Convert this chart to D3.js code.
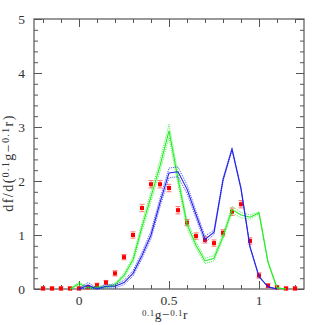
<!DOCTYPE html>
<html>
<head>
<meta charset="utf-8">
<script src="https://cdn.jsdelivr.net/npm/d3@7"></script>
<style>
	body { margin: 0; background: #fff; }
	svg text { font-family: "Liberation Serif", "DejaVu Serif", serif; fill: #333; }
</style>
</head>
<body>
<svg id="chart" width="314" height="325"></svg>
<script>
// Colour distribution: observed points plus two model curves with dotted envelopes.

// Observed points (red, with error bars).
var obsX = [-0.2, -0.15, -0.1, -0.05, 0, 0.05, 0.1, 0.15, 0.2, 0.25, 0.3, 0.35, 0.4, 0.45, 0.5,
	0.55, 0.6, 0.65, 0.7, 0.75, 0.8, 0.85, 0.9, 0.95, 1.0, 1.05, 1.1, 1.15, 1.2];
var obsY = [0.01, 0.01, 0.01, 0.01, 0.01, 0.03, 0.07, 0.12, 0.29, 0.59, 1.0, 1.5, 1.94, 1.94, 1.87,
	1.46, 1.23, 0.98, 0.91, 0.85, 1.04, 1.43, 1.57, 0.89, 0.25, 0.06, 0.03, 0.01, 0.01];
var obsErr = [0.01, 0.01, 0.01, 0.01, 0.01, 0.02, 0.02, 0.02, 0.03, 0.03, 0.04, 0.05, 0.05, 0.05, 0.05,
	0.05, 0.04, 0.04, 0.04, 0.04, 0.04, 0.05, 0.05, 0.04, 0.03, 0.02, 0.01, 0.01, 0.01];

// Green model.
var greenX = [-0.05, 0, 0.05, 0.1, 0.15, 0.2, 0.25, 0.3, 0.35, 0.4, 0.45, 0.5, 0.55, 0.6, 0.65,
	0.7, 0.75, 0.8, 0.85, 0.9, 0.95, 1.0, 1.05, 1.1, 1.15];
var greenY = [0, 0.1, 0.02, 0.03, 0.04, 0.08, 0.25, 0.54, 1.15, 1.71, 2.28, 2.93, 2.04, 1.2, 0.81,
	0.52, 0.57, 0.97, 1.47, 1.37, 1.33, 1.41, 0.5, 0.02, 0];
var greenErr = [0, 0.03, 0.02, 0.02, 0.02, 0.03, 0.04, 0.06, 0.08, 0.09, 0.1, 0.12, 0.1, 0.07, 0.06,
	0.05, 0.05, 0.05, 0.06, 0.05, 0.04, 0.02, 0.01, 0, 0];

// Blue model.
var blueX = [0, 0.05, 0.1, 0.15, 0.2, 0.25, 0.3, 0.35, 0.4, 0.45, 0.5, 0.55, 0.6, 0.65, 0.7,
	0.75, 0.8, 0.85, 0.9, 0.95, 1.0, 1.05, 1.1];
var blueY = [0, 0.07, 0.0, 0.05, 0.05, 0.12, 0.29, 0.62, 1.0, 1.6, 2.15, 2.17, 1.85, 1.38, 0.92,
	1.05, 2.02, 2.59, 1.86, 0.78, 0.23, 0.04, 0];
var blueErr = [0.01, 0.05, 0.02, 0.03, 0.03, 0.04, 0.05, 0.06, 0.07, 0.08, 0.09, 0.09, 0.08, 0.07, 0.06,
	0.04, 0.03, 0.02, 0.02, 0.01, 0.01, 0, 0];

// Tick labels.
var xMajor = [0, 0.5, 1];
var yMajor = [0, 1, 2, 3, 4, 5];

(function() {
	var svg = d3.select('#chart');
	var mLeft = 34, mRight = 304, mTop = 19, mBottom = 289;

	var x = d3.scaleLinear().domain([-0.25, 1.25]).range([mLeft, mRight]);
	var y = d3.scaleLinear().domain([0, 5]).range([mBottom, mTop]);

	// Ticks on all four sides, pointing inward.
	function drawTicks(axisFn, scale, transform, values, size) {
		var g = svg.append('g')
			.attr('transform', transform)
			.call(axisFn(scale).tickValues(values).tickSize(size).tickFormat(''));
		g.select('.domain').remove();
		g.selectAll('line').attr('stroke', '#555');
	}
	var xMinor = x.ticks(15), yMinor = y.ticks(25);
	drawTicks(d3.axisBottom, x, 'translate(0,' + mBottom + ')', xMinor, -4);
	drawTicks(d3.axisBottom, x, 'translate(0,' + mBottom + ')', xMajor, -8);
	drawTicks(d3.axisTop, x, 'translate(0,' + mTop + ')', xMinor, -4);
	drawTicks(d3.axisTop, x, 'translate(0,' + mTop + ')', xMajor, -8);
	drawTicks(d3.axisLeft, y, 'translate(' + mLeft + ',0)', yMinor, -4);
	drawTicks(d3.axisLeft, y, 'translate(' + mLeft + ',0)', yMajor, -8);
	drawTicks(d3.axisRight, y, 'translate(' + mRight + ',0)', yMinor, -4);
	drawTicks(d3.axisRight, y, 'translate(' + mRight + ',0)', yMajor, -8);

	svg.append('rect')
		.attr('x', mLeft).attr('y', mTop)
		.attr('width', mRight - mLeft).attr('height', mBottom - mTop)
		.attr('fill', 'none').attr('stroke', '#555').attr('stroke-width', 1.2);

	// Tick labels.
	svg.selectAll('.xlab').data(xMajor).enter().append('text')
		.attr('x', function(d) { return x(d); })
		.attr('y', mBottom + 16)
		.attr('text-anchor', 'middle')
		.style('font-size', '13.5px')
		.text(function(d) { return d; });
	svg.selectAll('.ylab').data(yMajor).enter().append('text')
		.attr('x', mLeft - 9)
		.attr('y', function(d) { return y(d) + 4.5; })
		.attr('text-anchor', 'end')
		.style('font-size', '13.5px')
		.text(function(d) { return d; });

	// Axis titles with superscripts.
	function addSup(t, s, size, up) {
		t.append('tspan').style('font-size', size).attr('dy', -up).text(s);
	}
	var xt = svg.append('text')
		.attr('x', 165).attr('y', 319)
		.attr('text-anchor', 'middle')
		.style('font-size', '13.5px')
		.style('letter-spacing', '0.5px');
	addSup(xt, '0.1', '9px', 3.5);
	xt.append('tspan').attr('dy', 3.5).text('g');
	xt.append('tspan').text('\u2212');
	addSup(xt, '0.1', '9px', 3.5);
	xt.append('tspan').attr('dy', 3.5).text('r');

	var yt = svg.append('text')
		.attr('transform', 'translate(13,163) rotate(-90)')
		.attr('text-anchor', 'middle')
		.style('font-size', '14px')
		.style('letter-spacing', '1.5px');
	yt.append('tspan').text('df/d(');
	addSup(yt, '0.1', '9.5px', 4);
	yt.append('tspan').attr('dy', 4).text('g\u2212');
	addSup(yt, '0.1', '9.5px', 4);
	yt.append('tspan').attr('dy', 4).text('r)');

	// Observed points.
	var obs = obsX.map(function(d, i) { return {x: d, y: obsY[i], e: obsErr[i]}; });
	var pts = svg.append('g');
	pts.selectAll('.err').data(obs).enter().append('path')
		.attr('d', function(d) {
			var px = x(d.x), y0 = y(d.y - d.e) + 1, y1 = y(d.y + d.e) - 1;
			return 'M' + px + ',' + y0 + 'V' + y1 +
				'M' + (px - 2.5) + ',' + y0 + 'H' + (px + 2.5) +
				'M' + (px - 2.5) + ',' + y1 + 'H' + (px + 2.5);
		})
		.attr('stroke', '#f77').attr('stroke-width', 1).attr('fill', 'none');
	pts.selectAll('.pt').data(obs).enter().append('rect')
		.attr('x', function(d) { return x(d.x) - 2; })
		.attr('y', function(d) { return y(d.y) - 2; })
		.attr('width', 4).attr('height', 4)
		.attr('fill', '#f00');

	// Model curves: solid centre line and dotted envelopes.
	function drawModel(xs, ys, es, colour) {
		var line = d3.line()
			.x(function(d) { return x(d[0]); })
			.y(function(d) { return y(d[1]); });
		var mid = xs.map(function(d, i) { return [d, ys[i]]; });
		var hi = xs.map(function(d, i) { return [d, ys[i] + es[i]]; });
		var lo = xs.map(function(d, i) { return [d, Math.max(0, ys[i] - es[i])]; });
		[hi, lo].forEach(function(p) {
			svg.append('path').attr('d', line(p))
				.attr('fill', 'none').attr('stroke', colour).attr('stroke-width', 1)
				.attr('stroke-dasharray', '1,1').attr('opacity', 0.8);
		});
		svg.append('path').attr('d', line(mid))
			.attr('fill', 'none').attr('stroke', colour).attr('stroke-width', 1.1);
	}
	drawModel(greenX, greenY, greenErr, '#2e2');
	drawModel(blueX, blueY, blueErr, '#22e');
})();
</script>
</body>
</html>
